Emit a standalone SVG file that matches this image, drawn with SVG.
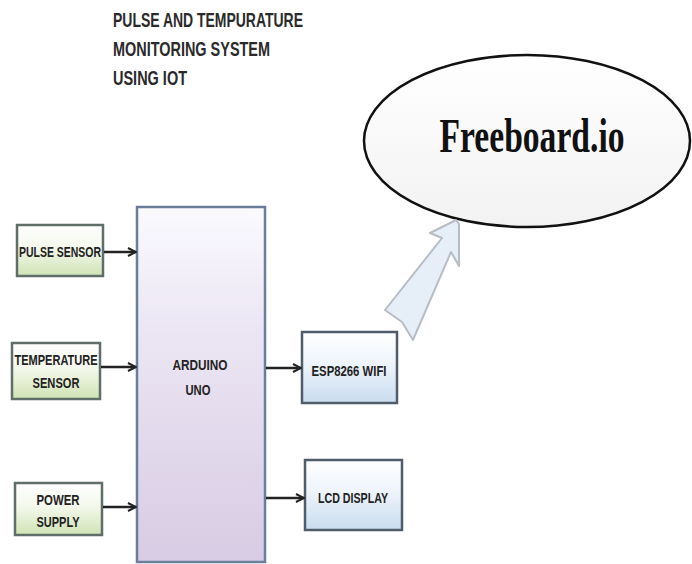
<svg xmlns="http://www.w3.org/2000/svg" width="692" height="564" viewBox="0 0 692 564">
<defs>
<linearGradient id="gGreen" x1="0" y1="0" x2="0" y2="1">
<stop offset="0" stop-color="#ffffff"/><stop offset="0.45" stop-color="#f4f8ec"/><stop offset="1" stop-color="#cfe3b4"/>
</linearGradient>
<linearGradient id="gBlue" x1="0" y1="0" x2="0" y2="1">
<stop offset="0" stop-color="#ffffff"/><stop offset="0.45" stop-color="#eef4fb"/><stop offset="1" stop-color="#c9dcef"/>
</linearGradient>
<linearGradient id="gLav" x1="0" y1="0" x2="0" y2="1">
<stop offset="0" stop-color="#fbfaff"/><stop offset="0.3" stop-color="#ede8f5"/><stop offset="1" stop-color="#d8cbe3"/>
</linearGradient>
<linearGradient id="gEll" x1="0" y1="0" x2="0" y2="1">
<stop offset="0" stop-color="#ffffff"/><stop offset="1" stop-color="#f2f2f2"/>
</linearGradient>
<marker id="ah" viewBox="0 0 10 10" refX="9" refY="5" markerWidth="4" markerHeight="4" orient="auto" markerUnits="strokeWidth">
<path d="M1,1 L9,5 L1,9" fill="none" stroke="#222" stroke-width="2"/>
</marker>
<style>
.title{font-family:"Liberation Sans",Arial,sans-serif;font-size:20px;fill:#2a2a2a;font-weight:bold}
.lbl{font-family:"Liberation Sans",Arial,sans-serif;font-size:15px;font-weight:bold;fill:#222;text-anchor:middle}
.g{fill:url(#gGreen);stroke:#5f6e68;stroke-width:2.5}
.b{fill:url(#gBlue);stroke:#4f5d6b;stroke-width:2.5}
.conn{stroke:#222;stroke-width:2.5;fill:none;marker-end:url(#ah)}
</style>
</defs>
<rect width="692" height="564" fill="#ffffff"/>
<g id="title">
<text class="title" x="113" y="27" textLength="190" lengthAdjust="spacingAndGlyphs">PULSE AND TEMPURATURE</text>
<text class="title" x="113" y="56" textLength="157" lengthAdjust="spacingAndGlyphs">MONITORING SYSTEM</text>
<text class="title" x="113" y="85" textLength="74" lengthAdjust="spacingAndGlyphs">USING IOT</text>
</g>
<g id="freeboard">
<ellipse cx="527" cy="141" rx="163" ry="86" fill="url(#gEll)" stroke="#111" stroke-width="2.5"/>
<text transform="translate(532,152) scale(0.7,1)" x="0" y="0" text-anchor="middle" font-family="Liberation Serif,'Times New Roman',serif" font-weight="bold" font-size="48" fill="#111">Freeboard.io</text>
</g>
<g id="pulse">
<rect class="g" x="17" y="225" width="86" height="51"/>
<text class="lbl" x="60" y="257" textLength="82" lengthAdjust="spacingAndGlyphs">PULSE SENSOR</text>
</g>
<g id="temperature">
<rect class="g" x="12" y="343" width="88" height="56"/>
<text class="lbl" x="56" y="365" textLength="83" lengthAdjust="spacingAndGlyphs">TEMPERATURE</text>
<text class="lbl" x="56" y="388" textLength="47" lengthAdjust="spacingAndGlyphs">SENSOR</text>
</g>
<g id="power">
<rect class="g" x="15" y="483" width="87" height="52"/>
<text class="lbl" x="58" y="505" textLength="43" lengthAdjust="spacingAndGlyphs">POWER</text>
<text class="lbl" x="58" y="527" textLength="43" lengthAdjust="spacingAndGlyphs">SUPPLY</text>
</g>
<g id="arduino">
<rect x="137" y="207" width="128" height="355" fill="url(#gLav)" stroke="#6a7d9a" stroke-width="2.5"/>
<text class="lbl" x="200" y="370" textLength="55" lengthAdjust="spacingAndGlyphs">ARDUINO</text>
<text class="lbl" x="198" y="395" textLength="25" lengthAdjust="spacingAndGlyphs">UNO</text>
</g>
<g id="esp">
<rect class="b" x="302" y="332" width="95" height="71"/>
<text class="lbl" x="349" y="376" textLength="75" lengthAdjust="spacingAndGlyphs">ESP8266 WIFI</text>
</g>
<g id="lcd">
<rect class="b" x="305" y="460" width="97" height="70"/>
<text class="lbl" x="353" y="503" textLength="70" lengthAdjust="spacingAndGlyphs">LCD DISPLAY</text>
</g>
<g id="connectors">
<line class="conn" x1="104" y1="252" x2="136" y2="252"/>
<line class="conn" x1="101" y1="367" x2="136" y2="367"/>
<line class="conn" x1="103" y1="507" x2="136" y2="507"/>
<line class="conn" x1="266" y1="368" x2="301" y2="368"/>
<line class="conn" x1="266" y1="498" x2="304" y2="498"/>
<path d="M456,220 L430,233 L442,238 L385,310 L402,322 L413,340 L451,252 L459,266 L459,224 Z" fill="#e6eef8" stroke="#b8bcc4" stroke-width="2" stroke-linejoin="round"/>
</g>
</svg>
